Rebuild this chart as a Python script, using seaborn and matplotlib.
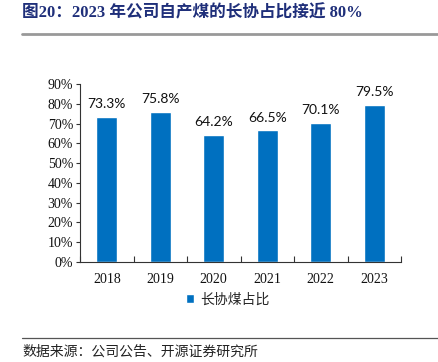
import matplotlib
matplotlib.use('Agg')
import matplotlib.pyplot as plt
import matplotlib.lines as mlines
from matplotlib.ticker import FixedLocator, PercentFormatter
import seaborn as sns
import pandas as pd

# data
years = ['2018', '2019', '2020', '2021', '2022', '2023']
share = [73.3, 75.8, 64.2, 66.5, 70.1, 79.5]
series_name = '长协煤占比'
title = '图20：2023 年公司自产煤的长协占比接近 80%'
source = '数据来源：公司公告、开源证券研究所'

bar_blue = '#0070C0'
navy = '#1F2F7A'
serif_cjk = ['Liberation Serif', 'Noto Sans CJK SC']
sans_cjk = ['Noto Sans CJK SC', 'DejaVu Sans']

sns.set_theme(style='white')
plt.rcParams['font.family'] = sans_cjk

df = pd.DataFrame({'year': years, 'share': share})

fig = plt.figure(figsize=(4.38, 3.62), dpi=100)
ax = fig.add_axes([80 / 438, 1 - 262 / 362, 321 / 438, 178 / 362])

sns.barplot(data=df, x='year', y='share', color=bar_blue, width=0.4,
            saturation=1, ax=ax, label=series_name)

ax.bar_label(ax.containers[0], fmt='%.1f%%', padding=5, fontsize=10,
             family=['Lato', 'DejaVu Sans'], color='#111111')

ax.set_ylim(0, 90)
ax.set_xlim(-0.5, len(years) - 0.5)
ax.yaxis.set_major_locator(FixedLocator(range(0, 91, 10)))
ax.yaxis.set_major_formatter(PercentFormatter(decimals=0))
ax.set_xlabel('')
ax.set_ylabel('')

for lab in ax.get_xticklabels() + ax.get_yticklabels():
    lab.set_family('Liberation Serif')
    lab.set_fontsize(10)
    lab.set_color('#111111')

# ticks: outward on y, inward between categories on x
ax.tick_params(axis='y', left=True, direction='out', length=3, width=0.8,
               color='#333333', pad=2)
ax.tick_params(axis='x', which='major', bottom=True, length=0, pad=8)
ax.set_xticks([i - 0.5 for i in range(len(years) + 1)], minor=True)
ax.tick_params(axis='x', which='minor', bottom=True, direction='in',
               length=4, width=0.8, color='#333333')

for side in ['top', 'right']:
    ax.spines[side].set_visible(False)
for side in ['left', 'bottom']:
    ax.spines[side].set_color('#333333')
    ax.spines[side].set_linewidth(0.8)

ax.legend(loc='upper center', bbox_to_anchor=(0.46, -0.10), frameon=False,
          handlelength=0.6, handleheight=0.6, handletextpad=0.4,
          prop={'family': sans_cjk, 'size': 10})

# title, rules and source
fig.text(22 / 438, 1 - 13 / 362, title, family=serif_cjk, fontweight='bold',
         fontsize=12, color=navy, va='center', ha='left')
fig.add_artist(mlines.Line2D([22 / 438, 1], [1 - 34 / 362] * 2,
                             color='#999999', lw=2))
fig.add_artist(mlines.Line2D([22 / 438, 1], [1 - 338 / 362] * 2,
                             color='#555555', lw=0.9))
fig.text(22 / 438, 1 - 352 / 362, source, family=sans_cjk, fontsize=10,
         color='#222222', va='center', ha='left')

fig.savefig('out.png', dpi=100)
